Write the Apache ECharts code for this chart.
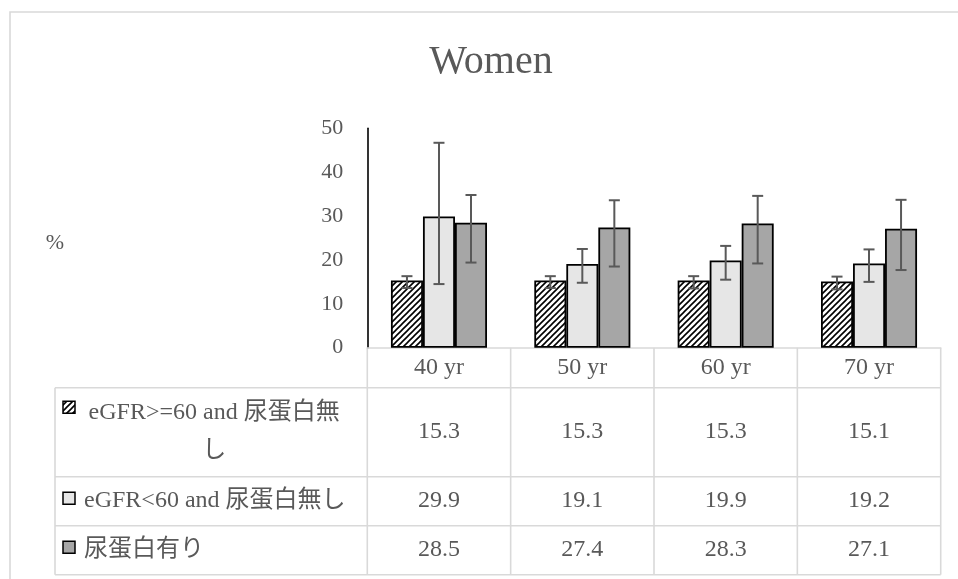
<!DOCTYPE html>
<html>
<head>
<meta charset="utf-8">
<script src="https://cdn.jsdelivr.net/npm/echarts@6/dist/echarts.min.js"></script>
<style>
  html, body { margin: 0; padding: 0; background: #fff; }
  #chart { width: 958px; height: 579px; }
</style>
</head>
<body>
<div id="chart"></div>
<script>
// Prevalence (%) of each kidney category among women, by age group
const categories = ['40 yr', '50 yr', '60 yr', '70 yr'];
const seriesNames = ['eGFR>=60 and 尿蛋白無し', 'eGFR<60 and 尿蛋白無し', '尿蛋白有り'];

const normalValues = [15.3, 15.3, 15.3, 15.1];
const lowEgfrValues = [29.9, 19.1, 19.9, 19.2];
const proteinuriaValues = [28.5, 27.4, 28.3, 27.1];

// Confidence interval bounds for the error bars
const normalLow = [13.6, 13.6, 13.5, 13.3];
const normalHigh = [16.3, 16.3, 16.3, 16.2];
const lowEgfrLow = [14.5, 14.8, 15.5, 15.0];
const lowEgfrHigh = [46.7, 22.5, 23.2, 22.4];
const proteinuriaLow = [19.4, 18.5, 19.2, 17.7];
const proteinuriaHigh = [34.8, 33.6, 34.6, 33.7];

const yTicks = { min: 0, max: 50, interval: 10 };

const FONT = "'Liberation Serif', 'Noto Sans CJK JP', serif";
const TEXT = '#595959';
const GRID_LINE = '#d9d9d9';
const BAR_GAP = 0.33;

function hatchPattern() {
  const c = document.createElement('canvas');
  c.width = 6; c.height = 6;
  const g = c.getContext('2d');
  g.fillStyle = '#fff';
  g.fillRect(0, 0, 6, 6);
  g.strokeStyle = '#000';
  g.lineWidth = 1.6;
  g.beginPath();
  g.moveTo(-1, 7); g.lineTo(7, -1);
  g.moveTo(-1, 1); g.lineTo(1, -1);
  g.moveTo(5, 7); g.lineTo(7, 5);
  g.stroke();
  return c;
}
const hatch = { image: hatchPattern(), repeat: 'repeat' };
const fills = [hatch, '#e6e6e6', '#a6a6a6'];
const valueSets = [normalValues, lowEgfrValues, proteinuriaValues];
const lowSets = [normalLow, lowEgfrLow, proteinuriaLow];
const highSets = [normalHigh, lowEgfrHigh, proteinuriaHigh];

function barSeries(k) {
  return {
    type: 'bar',
    name: seriesNames[k],
    data: valueSets[k],
    barGap: '0%',
    barCategoryGap: (BAR_GAP * 100) + '%',
    itemStyle: { color: fills[k], borderColor: '#000', borderWidth: 1.8 },
    z: 2
  };
}

function errorSeries(k) {
  return {
    type: 'custom',
    name: seriesNames[k] + ' CI',
    z: 5,
    silent: true,
    data: categories.map((c, i) => [i, lowSets[k][i], highSets[k][i]]),
    encode: { x: 0, y: [1, 2] },
    renderItem(params, api) {
      const catW = api.size([1, 0])[0];
      const bw = catW * (1 - BAR_GAP) / 3;
      const lo = api.coord([api.value(0), api.value(1)]);
      const hi = api.coord([api.value(0), api.value(2)]);
      const x = lo[0] + (k - 1) * bw;
      const cap = 5.5;
      const st = { stroke: '#595959', lineWidth: 2 };
      return {
        type: 'group',
        children: [
          { type: 'line', shape: { x1: x, y1: hi[1], x2: x, y2: lo[1] }, style: st },
          { type: 'line', shape: { x1: x - cap, y1: hi[1], x2: x + cap, y2: hi[1] }, style: st },
          { type: 'line', shape: { x1: x - cap, y1: lo[1], x2: x + cap, y2: lo[1] }, style: st }
        ]
      };
    }
  };
}

const chart = echarts.init(document.getElementById('chart'), null, { renderer: 'canvas' });

chart.setOption({
  backgroundColor: '#fff',
  animation: false,
  title: {
    text: 'Women',
    left: 486,
    top: 38,
    textAlign: 'center',
    textStyle: { fontFamily: FONT, fontSize: 40, fontWeight: 'normal', color: TEXT }
  },
  grid: { left: 367.3, right: 17.3, top: 128.3, bottom: 231.3, containLabel: false },
  xAxis: {
    type: 'category',
    data: categories,
    axisLine: { show: true, lineStyle: { color: GRID_LINE, width: 1.6 } },
    axisTick: { show: false },
    axisLabel: { fontFamily: FONT, fontSize: 24, color: TEXT, margin: 8 },
    splitLine: { show: false }
  },
  yAxis: {
    type: 'value',
    min: yTicks.min,
    max: yTicks.max,
    interval: yTicks.interval,
    axisLine: { show: true, lineStyle: { color: '#000', width: 1.6 } },
    axisTick: { show: false },
    splitLine: { show: false },
    axisLabel: { fontFamily: FONT, fontSize: 22, color: TEXT, margin: 24 }
  },
  series: [barSeries(0), barSeries(1), barSeries(2), errorSeries(0), errorSeries(1), errorSeries(2)]
});

// Data table under the plot: legend keys, series names and values
function buildTable() {
  const centers = categories.map((c, i) => chart.convertToPixel({ xAxisIndex: 0 }, i));
  const catW = centers.length > 1 ? centers[1] - centers[0] : 140;
  const colEdges = [centers[0] - catW / 2].concat(centers.map(c => c + catW / 2));
  const axisY = chart.convertToPixel({ yAxisIndex: 0 }, 0);
  const tableLeft = 55;
  const tableRight = colEdges[colEdges.length - 1];
  const rowEdges = [axisY + 40, axisY + 129, axisY + 178, axisY + 227];
  const lineStyle = { stroke: GRID_LINE, lineWidth: 1.6 };
  const els = [];

  // outer chart frame
  els.push({ type: 'rect', shape: { x: 10, y: 12, width: 1000, height: 700 },
    style: { fill: null, stroke: GRID_LINE, lineWidth: 1.6 }, z: 0, silent: true });

  // axis title
  els.push({ type: 'text', x: 55, y: 243,
    style: { text: '%', font: '22px ' + FONT, fill: TEXT, align: 'center', verticalAlign: 'middle' } });

  // horizontal rules
  rowEdges.forEach(y => els.push({ type: 'line', shape: { x1: tableLeft, y1: y, x2: tableRight, y2: y }, style: lineStyle }));
  // vertical rules
  colEdges.forEach(x => els.push({ type: 'line', shape: { x1: x, y1: axisY, x2: x, y2: rowEdges[3] }, style: lineStyle }));
  els.push({ type: 'line', shape: { x1: tableLeft, y1: rowEdges[0], x2: tableLeft, y2: rowEdges[3] }, style: lineStyle });

  const nameCenter = (tableLeft + colEdges[0]) / 2 + 3;
  for (let k = 0; k < 3; k++) {
    const top = rowEdges[k], bottom = rowEdges[k + 1];
    const mid = (top + bottom) / 2;
    if (k === 0) {
      els.push({ type: 'rect', shape: { x: 63, y: mid - 31, width: 12, height: 12 },
        style: { fill: fills[k], stroke: '#000', lineWidth: 1.5 } });
      els.push({ type: 'text', x: nameCenter, y: mid,
        style: { text: seriesNames[k], font: '24px ' + FONT, fill: TEXT, width: 262, overflow: 'break',
          lineHeight: 38, align: 'center', verticalAlign: 'middle' } });
    } else {
      els.push({ type: 'rect', shape: { x: 63, y: mid - 9, width: 12, height: 12 },
        style: { fill: fills[k], stroke: '#000', lineWidth: 1.5 } });
      els.push({ type: 'text', x: 84, y: mid,
        style: { text: seriesNames[k], font: '24px ' + FONT, fill: TEXT, align: 'left', verticalAlign: 'middle' } });
    }
    valueSets[k].forEach((v, i) => {
      els.push({ type: 'text', x: centers[i], y: mid,
        style: { text: v.toFixed(1), font: '24px ' + FONT, fill: TEXT, align: 'center', verticalAlign: 'middle' } });
    });
  }
  chart.setOption({ graphic: { elements: els } });
}
buildTable();
</script>
</body>
</html>
